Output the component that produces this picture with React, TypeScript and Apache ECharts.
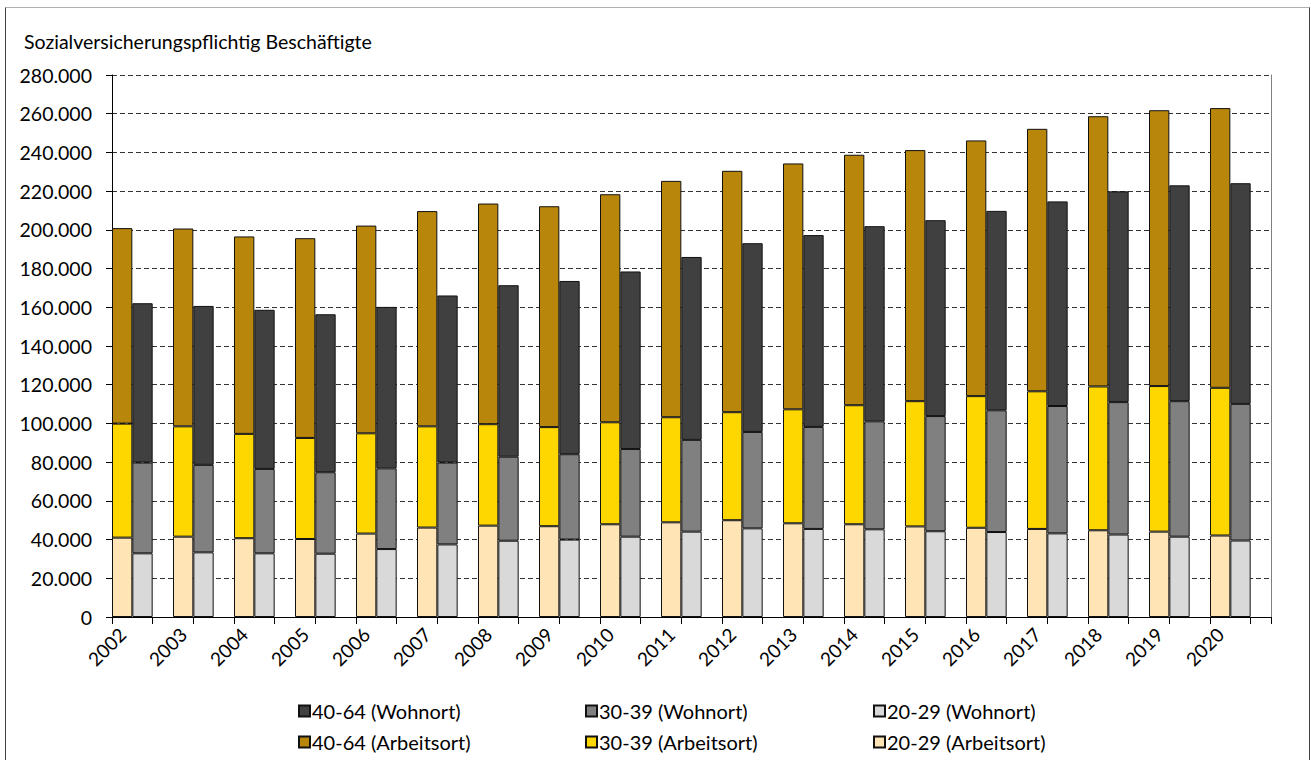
import React, { useEffect, useRef } from "react";
import * as echarts from "echarts";

const YEARS = ["2002","2003","2004","2005","2006","2007","2008","2009","2010","2011","2012","2013","2014","2015","2016","2017","2018","2019","2020"];

// Arbeitsort (place of work)
const A_20_29 = [41000,41500,40700,40300,43100,46200,47200,46900,47900,48900,50000,48400,47900,46800,46100,45500,44800,44100,42100];
const A_30_39 = [58900,57000,53900,52200,51800,52300,52400,51200,52700,54300,55800,58900,61500,64700,68000,71100,74300,75200,76300];
const A_40_64 = [101000,102200,102000,103200,107300,111200,114000,114100,117800,122100,124700,127000,129400,129700,132100,135600,139600,142500,144500];

// Wohnort (place of residence)
const W_20_29 = [32900,33400,32900,32700,35100,37500,39400,40000,41500,44100,45800,45500,45300,44300,43900,43200,42600,41500,39500];
const W_30_39 = [46900,45200,43600,42100,41700,42300,43400,44100,45300,47400,49800,52700,55800,59500,62900,65800,68400,70000,70600];
const W_40_64 = [82300,82100,82200,81600,83400,86300,88600,89500,91700,94500,97500,99100,100800,101200,103000,105700,108900,111500,114000];

const TITLE = "Sozialversicherungspflichtig Beschäftigte";
const FONT = "Lato";

// three slots per year: Arbeitsort, Wohnort, gap
const SLOTS = YEARS.flatMap((y) => [y + "|A", y + "|W", y + "|G"]);

function spread(values: number[], slot: number) {
  const out: (number | string)[] = [];
  values.forEach((v) => {
    for (let k = 0; k < 3; k++) out.push(k === slot ? v : "-");
  });
  return out;
}

const fmt = (v: number) => String(v).replace(/\B(?=(\d{3})+(?!\d))/g, ".");

const SERIES_DEF = [
  { name: "20-29 (Arbeitsort)", data: A_20_29, slot: 0, color: "#FFE4B5" },
  { name: "30-39 (Arbeitsort)", data: A_30_39, slot: 0, color: "#FFD700" },
  { name: "40-64 (Arbeitsort)", data: A_40_64, slot: 0, color: "#B8860B" },
  { name: "20-29 (Wohnort)", data: W_20_29, slot: 1, color: "#D9D9D9" },
  { name: "30-39 (Wohnort)", data: W_30_39, slot: 1, color: "#808080" },
  { name: "40-64 (Wohnort)", data: W_40_64, slot: 1, color: "#404040" },
];

const LEGEND_ROWS = [
  ["40-64 (Wohnort)", "30-39 (Wohnort)", "20-29 (Wohnort)"],
  ["40-64 (Arbeitsort)", "30-39 (Arbeitsort)", "20-29 (Arbeitsort)"],
];
const LEGEND_X = [298, 585, 873];
const LEGEND_Y = [701, 732];

export default function App() {
  const ref = useRef<HTMLDivElement>(null);
  useEffect(() => {
    if (!ref.current) return;
    const chart = echarts.init(ref.current, undefined, { renderer: "svg" });
    const legends: any[] = [];
    LEGEND_ROWS.forEach((row, r) =>
      row.forEach((name, c) => {
        legends.push({
          data: [name],
          left: LEGEND_X[c],
          top: LEGEND_Y[r],
          padding: 0,
          icon: "rect",
          itemWidth: 11,
          itemHeight: 11,
          selectedMode: false,
          textStyle: { fontFamily: FONT, fontSize: 20, color: "#000", padding: [0, 0, 0, -3] },
        });
      })
    );
    chart.setOption({
      animation: false,
      backgroundColor: "#fff",
      textStyle: { fontFamily: FONT },
      title: {
        text: TITLE,
        left: 24,
        top: 31,
        padding: 0,
        textStyle: { fontFamily: FONT, fontSize: 19.5, fontWeight: "normal", color: "#000" },
      },
      legend: legends,
      grid: { left: 112, right: 40, top: 75, bottom: 143, containLabel: false },
      xAxis: {
        type: "category",
        data: SLOTS,
        boundaryGap: true,
        axisLine: { show: true, lineStyle: { color: "#000", width: 1 } },
        axisTick: { show: true, interval: 1, length: 7, lineStyle: { color: "#000" } },
        axisLabel: {
          interval: (i: number) => i % 3 === 0,
          rotate: 45,
          margin: 14,
          formatter: (v: string) => v.split("|")[0],
          fontFamily: FONT,
          fontSize: 19,
          color: "#000",
        },
        splitLine: { show: false },
      },
      yAxis: [
        {
          type: "value",
          min: 0,
          max: 280000,
          interval: 20000,
          axisLine: { show: true, lineStyle: { color: "#000", width: 1 } },
          axisTick: { show: true, length: 6, lineStyle: { color: "#000" } },
          axisLabel: { formatter: (v: number) => fmt(v), fontFamily: FONT, fontSize: 19.5, color: "#000", margin: 20 },
          splitLine: { show: true, lineStyle: { color: "#333", type: [5, 3], width: 1 } },
        },
        {
          type: "value",
          position: "right",
          min: 0,
          max: 280000,
          interval: 20000,
          axisLine: { show: true, lineStyle: { color: "#808080", width: 1 } },
          axisTick: { show: false },
          axisLabel: { show: false },
          splitLine: { show: false },
        },
      ],
      series: SERIES_DEF.map((s) => ({
        name: s.name,
        type: "bar",
        stack: "all",
        yAxisIndex: 0,
        barCategoryGap: 0,
        barGap: 0,
        data: spread(s.data, s.slot),
        itemStyle: { color: s.color, borderColor: "#111", borderWidth: 1 },
        emphasis: { disabled: true },
      })),
      graphic: [
        { type: "line", shape: { x1: 5.5, y1: 7.5, x2: 1309.5, y2: 7.5 }, style: { stroke: "#b0b0b0", lineWidth: 1 } },
        { type: "line", shape: { x1: 5.5, y1: 7.5, x2: 5.5, y2: 760 }, style: { stroke: "#404040", lineWidth: 1 } },
        { type: "line", shape: { x1: 1309.5, y1: 7.5, x2: 1309.5, y2: 760 }, style: { stroke: "#404040", lineWidth: 1 } },
      ],
    });
    return () => chart.dispose();
  }, []);
  return (
    <div
      ref={ref}
      style={{ position: "fixed", left: 0, top: 0, width: 1311, height: 760, background: "#fff" }}
    />
  );
}
